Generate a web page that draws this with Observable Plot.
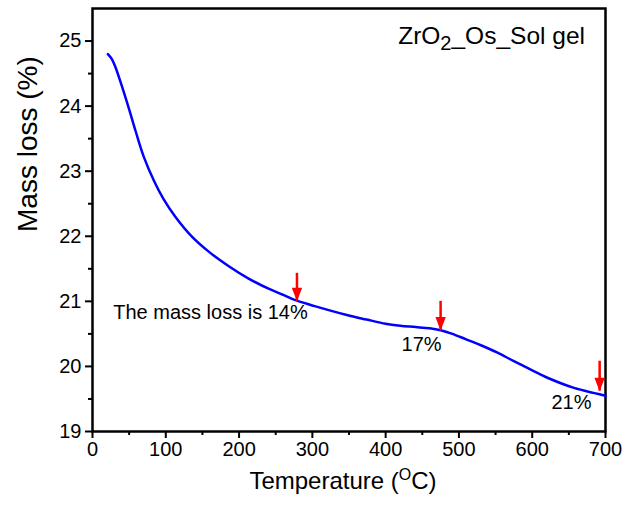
<!DOCTYPE html>
<html>
<head>
<meta charset="utf-8">
<script src="https://cdn.jsdelivr.net/npm/d3@7"></script>
<script src="https://cdn.jsdelivr.net/npm/@observablehq/plot@0.6"></script>
<style>
  html, body { margin: 0; padding: 0; background: #fff; }
</style>
</head>
<body>
<div id="chart"></div>
<script>
// ---- data ----
const temperature = [21, 26, 31, 40, 50, 59, 70, 84, 97, 113, 136, 159, 186, 213, 241, 256, 268, 279, 302, 347, 374, 400, 420, 441, 460, 475, 490, 509, 530, 552, 575, 600, 620, 657, 685, 700];
const massLoss   = [24.80, 24.73, 24.61, 24.31, 23.95, 23.61, 23.22, 22.85, 22.57, 22.30, 21.99, 21.76, 21.54, 21.35, 21.19, 21.12, 21.06, 21.01, 20.93, 20.79, 20.72, 20.655, 20.625, 20.605, 20.585, 20.555, 20.505, 20.42, 20.325, 20.215, 20.08, 19.94, 19.83, 19.67, 19.59, 19.55];

const xTicks = [0, 100, 200, 300, 400, 500, 600, 700];
const xMinorTicks = [50, 150, 250, 350, 450, 550, 650];
const yTicks = [19, 20, 21, 22, 23, 24, 25];
const yMinorTicks = [19.5, 20.5, 21.5, 22.5, 23.5, 24.5];

const arrowX = [279, 475, 692];
const arrowTop = [21.43, 21.0, 20.08];
const arrowTip = [21.0, 20.55, 19.62];

const noteText = ["The mass loss is 14%", "17%", "21%"];
const noteX = [28.3, 449, 653.5];
const noteY = [20.83, 20.34, 19.45];
const noteAnchor = ["start", "middle", "middle"];

const titleText = ["ZrO2_Os_Sol gel"];
const titleX = [672];
const titleY = [25.07];

const xLabel = "Temperature (OC)";
const yLabel = "Mass loss (%)";

// ---- tables built from the arrays ----
const curve = temperature.map((t, i) => ({t, m: massLoss[i]}));
const arrows = arrowX.map((x, i) => ({x, top: arrowTop[i], tip: arrowTip[i]}));
const notes = noteText.map((s, i) => ({s, x: noteX[i], y: noteY[i], a: noteAnchor[i]}));
const titles = titleText.map((s, i) => ({s, x: titleX[i], y: titleY[i]}));

// downward triangular arrow head with its tip at the anchor point
const headSymbol = {
  draw(ctx, size) {
    const r = Math.sqrt(size / Math.PI);
    ctx.moveTo(0, 0);
    ctx.lineTo(-r, -2.6 * r);
    ctx.lineTo(r, -2.6 * r);
    ctx.closePath();
  }
};

const font = "'Liberation Sans', Arial, sans-serif";

const chart = Plot.plot({
  width: 623,
  height: 506,
  marginTop: 8,
  marginRight: 18,
  marginBottom: 75,
  marginLeft: 92,
  style: {fontFamily: font, background: "white", color: "black", overflow: "visible"},
  x: {domain: [0, 700], label: null},
  y: {domain: [19, 25.5], label: null},
  marks: [
    Plot.axisX({ticks: xMinorTicks, tickSize: 4, text: null, stroke: "black", strokeWidth: 2, label: null}),
    Plot.axisX({ticks: xTicks, tickSize: 7, tickPadding: 3, tickFormat: (d) => String(d), fontSize: 20, stroke: "black", strokeWidth: 2, label: null, fill: "black"}),
    Plot.axisY({ticks: yMinorTicks, tickSize: 4, text: null, stroke: "black", strokeWidth: 2, label: null}),
    Plot.axisY({ticks: yTicks, tickSize: 7, tickPadding: 4, tickFormat: (d) => String(d), fontSize: 20, stroke: "black", strokeWidth: 2, label: null, fill: "black"}),
    Plot.frame({stroke: "black", strokeWidth: 2.5}),
    Plot.line(curve, {x: "t", y: "m", stroke: "#0000ff", strokeWidth: 2.5, curve: "catmull-rom"}),
    Plot.ruleX(arrows, {x: "x", y1: "top", y2: "tip", stroke: "#ff0000", strokeWidth: 2.5}),
    Plot.dot(arrows, {x: "x", y: "tip", symbol: headSymbol, r: 5.2, fill: "#ff0000", stroke: "none"}),
    Plot.text(notes.filter(d => d.a === "start"), {x: "x", y: "y", text: "s", textAnchor: "start", fontSize: 20, fill: "black"}),
    Plot.text(notes.filter(d => d.a === "middle"), {x: "x", y: "y", text: "s", textAnchor: "middle", fontSize: 20, fill: "black"}),
    Plot.text(titles, {x: "x", y: "y", text: "s", textAnchor: "end", fontSize: 24.5, fill: "black"}),
    Plot.text([yLabel], {frameAnchor: "left", rotate: -90, dx: -64, dy: 12, fontSize: 28, fill: "black"}),
    Plot.text([xLabel], {frameAnchor: "bottom", dx: -6, dy: 57, fontSize: 24, fill: "black"})
  ]
});

// sub/superscripts as real text
d3.select(chart).selectAll("text").each(function () {
  const t = d3.select(this);
  const content = this.textContent;
  if (content === "ZrO2_Os_Sol gel") {
    t.text(null);
    t.append("tspan").text("ZrO");
    t.append("tspan").attr("dy", 6).attr("font-size", 20).text("2");
    t.append("tspan").attr("dy", -6).text("_Os_Sol gel");
  } else if (content === xLabel) {
    t.text(null);
    t.append("tspan").text("Temperature (");
    t.append("tspan").attr("dy", -9).attr("font-size", 16).text("O");
    t.append("tspan").attr("dy", 9).text("C)");
  }
});

document.getElementById("chart").appendChild(chart);
</script>
</body>
</html>
